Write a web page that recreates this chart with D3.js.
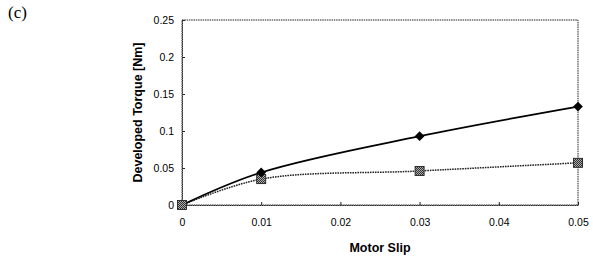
<!DOCTYPE html>
<html><head><meta charset="utf-8">
<script src="https://cdn.jsdelivr.net/npm/d3@7"></script>
<style>body{margin:0;background:#fff}svg{display:block}</style>
</head><body>
<script>
const slip = [0, 0.01, 0.03, 0.05];
const torqueA = [0, 0.044, 0.093, 0.133];
const torqueB = [0, 0.035, 0.046, 0.057];
const xTicks = [0, 0.01, 0.02, 0.03, 0.04, 0.05];
const yTicks = [0, 0.05, 0.1, 0.15, 0.2, 0.25];

const W = 593, H = 260;
const m = {l: 182, r: 15, t: 20, b: 55};
const svg = d3.select("body").append("svg").attr("width", W).attr("height", H);
const x = d3.scaleLinear().domain([0, 0.05]).range([m.l, W - m.r]);
const y = d3.scaleLinear().domain([0, 0.25]).range([H - m.b, m.t]);
const font = "Liberation Sans, Arial, sans-serif";

svg.append("text").attr("x", 8).attr("y", 18).attr("font-family", "Liberation Serif, Times New Roman, serif")
  .attr("font-size", 17).text("(c)");

// frame
svg.append("rect").attr("x", x(0)).attr("y", y(0.25)).attr("width", x(0.05) - x(0)).attr("height", y(0) - y(0.25))
  .attr("fill", "none").attr("stroke", "#222").attr("stroke-width", 1).attr("stroke-dasharray", "1.5,0.8");

const xa = svg.append("g").attr("transform", `translate(0,${y(0)})`)
  .call(d3.axisBottom(x).tickValues(xTicks).tickSize(-3).tickPadding(14).tickFormat(d => d === 0 ? "0" : d3.format(".2f")(d)));
const ya = svg.append("g").attr("transform", `translate(${x(0)},0)`)
  .call(d3.axisLeft(y).tickValues(yTicks).tickSize(-3).tickPadding(8).tickFormat(d => d === 0 ? "0" : String(+d.toFixed(2))));
[xa, ya].forEach(a => {
  a.select(".domain").attr("stroke", "#222").attr("stroke-dasharray", "1.5,0.8");
  a.selectAll(".tick line").attr("stroke", "#222");
  a.selectAll("text").attr("font-family", font).attr("font-size", 10.5).attr("fill", "#000");
});

svg.append("text").attr("x", (x(0) + x(0.05)) / 2).attr("y", 252).attr("text-anchor", "middle")
  .attr("font-family", font).attr("font-size", 12.5).attr("font-weight", "bold").text("Motor Slip");
svg.append("text").attr("transform", `translate(142,${(y(0) + y(0.25)) / 2}) rotate(-90)`).attr("text-anchor", "middle")
  .attr("font-family", font).attr("font-size", 12.5).attr("font-weight", "bold").text("Developed Torque [Nm]");

const defs = svg.append("defs");
const pat = defs.append("pattern").attr("id", "hatch").attr("width", 2).attr("height", 2).attr("patternUnits", "userSpaceOnUse");
pat.append("rect").attr("width", 2).attr("height", 2).attr("fill", "#aaa");
pat.append("rect").attr("width", 1).attr("height", 1).attr("fill", "#333");
pat.append("rect").attr("x", 1).attr("y", 1).attr("width", 1).attr("height", 1).attr("fill", "#333");

const line = d3.line().curve(d3.curveCatmullRom.alpha(0.5));
const ptsA = slip.map((s, i) => [x(s), y(torqueA[i])]);
const ptsB = slip.map((s, i) => [x(s), y(torqueB[i])]);

svg.append("path").attr("d", line(ptsB)).attr("fill", "none").attr("stroke", "#222").attr("stroke-width", 1.5)
  .attr("stroke-dasharray", "1.6,0.9");
svg.append("path").attr("d", line(ptsA)).attr("fill", "none").attr("stroke", "#000").attr("stroke-width", 1.7);

svg.selectAll(".sq").data(ptsB).enter().append("rect")
  .attr("x", d => d[0] - 4.5).attr("y", d => d[1] - 4.5).attr("width", 9).attr("height", 9)
  .attr("fill", "url(#hatch)").attr("stroke", "#222").attr("stroke-width", 0.9);
svg.selectAll(".dm").data(ptsA.slice(1)).enter().append("path")
  .attr("d", d3.symbol(d3.symbolDiamond2, 60)())
  .attr("transform", d => `translate(${d[0]},${d[1]})`).attr("fill", "#000");
</script>
</body></html>
